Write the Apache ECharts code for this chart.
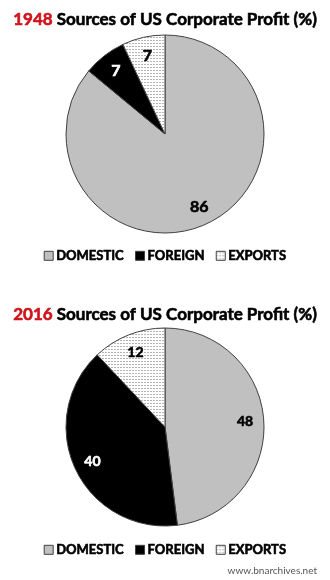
<!DOCTYPE html>
<html>
<head>
<meta charset="utf-8">
<script src="https://cdn.jsdelivr.net/npm/echarts@6/dist/echarts.min.js"></script>
<style>
  html, body { margin: 0; padding: 0; background: #fff; }
  #chart { width: 330px; height: 580px; }
</style>
</head>
<body>
<div id="chart"></div>
<script>
// Sources of US corporate profit, share in percent
const categories = ['DOMESTIC', 'FOREIGN', 'EXPORTS'];
const years = ['1948', '2016'];
const shares1948 = [86, 7, 7];
const shares2016 = [48, 40, 12];
const titleText = 'Sources of US Corporate Profit (%)';
const sourceNote = 'www.bnarchives.net';

const FONT = 'Lato, "Open Sans", sans-serif';
const STROKE = 0.6; // thin outline to thicken the bold glyphs

// light dotted fill used for exports
function dotPattern() {
  const c = document.createElement('canvas');
  c.width = 3; c.height = 3;
  const g = c.getContext('2d');
  g.fillStyle = '#ffffff';
  g.fillRect(0, 0, 3, 3);
  g.fillStyle = '#b4b4b4';
  g.fillRect(0, 1, 2, 1);
  return c;
}
const dots = { image: dotPattern(), repeat: 'repeat' };

const sliceStyles = [
  { color: '#c0c0c0', borderColor: '#404040', borderWidth: 1 },
  { color: '#000000', borderColor: '#404040', borderWidth: 1 },
  { color: dots, borderColor: '#404040', borderWidth: 1 }
];
const labelColors = ['#000', '#fff', '#000'];

function pieData(values) {
  return categories.map((name, i) => ({
    name: name,
    value: values[i],
    itemStyle: sliceStyles[i]
  }));
}

function labelData(values, fontSize) {
  return categories.map((name, i) => ({
    name: name,
    value: values[i],
    itemStyle: { color: 'transparent', borderWidth: 0 },
    label: {
      color: labelColors[i],
      textBorderColor: labelColors[i],
      textBorderWidth: STROKE,
      fontSize: fontSize
    }
  }));
}

const R = 99;

function pieSeries(values, cy) {
  return {
    type: 'pie',
    center: [165, cy],
    radius: R,
    startAngle: 90,
    clockwise: true,
    silent: true,
    avoidLabelOverlap: false,
    label: { show: false },
    labelLine: { show: false },
    emphasis: { disabled: true },
    data: pieData(values)
  };
}

// invisible twin pie whose "inside" labels sit at ~0.78 of the radius
function labelSeries(values, cy, fontSize) {
  return {
    type: 'pie',
    center: [165, cy],
    radius: R * 1.56,
    startAngle: 90,
    clockwise: true,
    silent: true,
    avoidLabelOverlap: false,
    label: {
      show: true,
      position: 'inside',
      formatter: '{c}',
      fontFamily: FONT,
      fontWeight: 'bold'
    },
    labelLine: { show: false },
    emphasis: { disabled: true },
    data: labelData(values, fontSize)
  };
}

function legendFor(top) {
  return {
    top: top,
    left: 'center',
    itemWidth: 9,
    itemHeight: 9,
    itemGap: 11,
    icon: 'rect',
    selectedMode: false,
    textStyle: {
      fontFamily: FONT, fontWeight: 'bold', fontSize: 13, color: '#000',
      textBorderColor: '#000', textBorderWidth: STROKE,
      padding: [0, 0, 0, -2]
    },
    data: categories.map((name, i) => ({ name: name, itemStyle: sliceStyles[i] }))
  };
}

function titleFor(year, top) {
  return {
    text: '{y|' + year + '} ' + titleText,
    left: 'center',
    top: top,
    textStyle: {
      fontFamily: FONT,
      fontWeight: 'bold',
      fontSize: 17,
      color: '#000',
      textBorderColor: '#000',
      textBorderWidth: STROKE,
      rich: {
        y: {
          fontFamily: FONT, fontWeight: 'bold', fontSize: 17,
          color: '#d0141c', textBorderColor: '#d0141c', textBorderWidth: STROKE
        }
      }
    }
  };
}

const chart = echarts.init(document.getElementById('chart'), null, { renderer: 'canvas' });
chart.setOption({
  animation: false,
  backgroundColor: '#fff',
  title: [
    titleFor(years[0], 6),
    titleFor(years[1], 301),
    {
      text: sourceNote,
      right: 8,
      top: 561,
      textStyle: { fontFamily: FONT, fontWeight: 'normal', fontSize: 10, color: '#555' }
    }
  ],
  legend: [legendFor(244), legendFor(538)],
  series: [
    pieSeries(shares1948, 134),
    pieSeries(shares2016, 427),
    labelSeries(shares1948, 134, 16),
    labelSeries(shares2016, 427, 14)
  ]
});
</script>
</body>
</html>
